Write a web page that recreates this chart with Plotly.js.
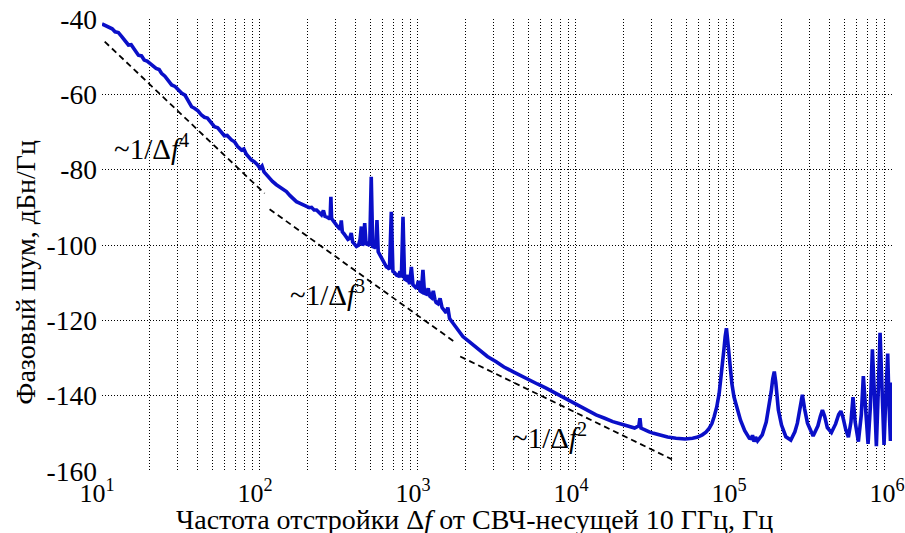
<!DOCTYPE html>
<html>
<head>
<meta charset="utf-8">
<script src="https://cdn.plot.ly/plotly-3.0.1.min.js"></script>
<style>html,body{margin:0;padding:0;background:#fff}#chart{width:905px;height:533px}</style>
</head>
<body>
<div id="chart"></div>
<script>
// Offset frequency, Hz
const freqHz = [
  10, 10.5, 11, 11.6, 12.1, 12.7, 13.3, 14, 14.7, 15.3, 16, 17, 17.8, 18.5, 19.3, 20, 21, 22, 23, 23.8,
  25, 26.3, 27.6, 29, 30.5, 32, 33.5, 35, 36.9, 38.5, 40.5, 42.6, 44.5, 46.5, 49.3, 51.5, 54, 57, 59.5, 62,
  66, 69, 72, 76.4, 79, 82, 85, 88, 92, 96, 100, 103, 106, 110, 115, 120, 127, 133, 140, 147,
  155, 162, 170, 178, 187, 197, 205, 212, 220, 228, 236, 245, 252, 258, 266, 273, 278, 281, 284, 292,
  300, 305, 315, 322, 327, 332, 340, 350, 360, 370, 378, 386, 395, 408, 420, 430, 438, 445, 452, 460,
  470, 482, 495, 506, 517, 532, 542, 550, 560, 573, 586, 600, 615, 631, 645, 660, 678, 694, 710, 730,
  750, 770, 785, 804, 822, 844, 865, 885, 908, 930, 953, 980, 1005, 1030, 1050, 1075, 1100, 1130, 1160, 1190,
  1220, 1250, 1280, 1303, 1340, 1380, 1420, 1460, 1509, 1545, 1585, 1650, 1750, 1850, 1924, 2100, 2300, 2455, 2750, 3127,
  3500, 3984, 4500, 5078, 5700, 6472, 7300, 8247, 9300, 10500, 11800, 13400, 15200, 17100, 19500, 21800, 23500, 25000, 25400, 25800,
  27500, 29100, 31000, 33700, 38000, 43000, 49000, 54700, 59000, 63000, 66500, 69600, 72500, 74900, 77800, 80600, 82500, 84500, 86500, 88000,
  89600, 91000, 92500, 94100, 97000, 100000, 105000, 110000, 117000, 125000, 129000, 131000, 134000, 137000, 141000, 151000, 160000, 167000, 172000, 176000,
  180000, 184000, 191000, 200000, 213000, 229000, 243000, 252000, 262000, 271000, 280000, 292000, 317000, 340000, 352000, 363000, 375000, 390000, 414000, 440000,
  460000, 475000, 490000, 510000, 530000, 550000, 567000, 585000, 613000, 640000, 659000, 680000, 706000, 730000, 752000, 775000, 797000, 820000, 841000, 866000,
  891000, 915000, 940000, 958000, 978000, 990000, 1000000
];
// Phase noise, dBc/Hz
const noiseDb = [
  -41.3, -41.8, -42.3, -42.6, -43.4, -43.6, -44.6, -45.9, -46.9, -46.8, -48.0, -49.6, -49.8, -50.9, -51.2, -51.8, -52.3, -53.1, -53.4, -54.4,
  -55.2, -56.4, -57.5, -57.9, -59.0, -59.7, -60.2, -61.5, -63.3, -63.7, -64.4, -65.5, -66.1, -66.3, -67.7, -68.6, -68.9, -69.9, -71.0, -70.9,
  -72.1, -72.6, -73.8, -74.8, -74.5, -75.9, -76.8, -77.4, -77.9, -78.6, -79.6, -79.0, -80.6, -81.4, -82.3, -83.1, -84.0, -84.6, -85.4, -85.8,
  -86.9, -87.8, -88.5, -88.9, -89.4, -89.8, -90.1, -90.0, -90.7, -90.7, -91.5, -92.0, -90.8, -92.4, -92.6, -92.9, -92.6, -87.2, -93.0, -93.8,
  -94.5, -94.7, -95.4, -95.8, -93.5, -96.5, -97.0, -97.8, -98.5, -98.2, -96.8, -99.2, -99.8, -100.4, -100.1, -98.5, -95.1, -100.2, -99.0, -94.2,
  -100.0, -99.6, -100.2, -81.9, -100.4, -100.6, -100.2, -93.4, -101.8, -102.6, -103.1, -103.9, -104.6, -105.8, -106.0, -106.4, -91.2, -107.0, -107.3, -108.0,
  -108.2, -107.0, -108.6, -92.5, -109.0, -109.3, -108.0, -110.4, -105.8, -110.6, -111.0, -111.6, -109.5, -112.2, -112.4, -106.6, -112.8, -113.0, -111.5, -113.6,
  -114.0, -112.2, -114.5, -115.3, -115.6, -114.2, -116.6, -117.2, -118.0, -116.6, -119.5, -120.5, -122.0, -123.3, -124.3, -125.6, -127.0, -127.9, -129.6, -131.0,
  -132.4, -133.6, -134.8, -135.8, -136.9, -138.0, -139.2, -140.3, -141.6, -142.9, -143.9, -145.1, -146.0, -146.9, -147.6, -148.2, -148.6, -148.0, -146.0, -148.6,
  -149.2, -149.6, -150.0, -150.5, -151.0, -151.3, -151.5, -151.3, -151.0, -150.4, -149.7, -148.7, -147.4, -145.6, -143.0, -139.4, -136.0, -131.4, -127.5, -124.3,
  -122.1, -124.8, -128.5, -132.3, -136.8, -140.3, -143.8, -146.5, -149.3, -151.3, -151.4, -150.5, -152.2, -151.0, -152.0, -150.4, -147.0, -142.9, -139.0, -135.5,
  -133.6, -136.5, -143.8, -147.8, -150.9, -151.8, -149.6, -147.3, -143.5, -139.8, -143.5, -147.3, -150.7, -148.0, -145.5, -143.8, -145.5, -148.5, -149.8, -147.5,
  -145.0, -144.1, -145.8, -149.0, -151.0, -147.0, -140.4, -147.0, -152.2, -145.0, -134.8, -143.0, -152.8, -143.0, -127.7, -140.0, -153.4, -138.0, -123.3, -138.5,
  -153.1, -140.0, -128.8, -142.0, -152.0, -145.0, -136.5
];
// Asymptote guide lines
const slope4F = [10.4, 107];    const slope4Db = [-46, -86.3];
const slope3F = [115, 1702];    const slope3Db = [-90.5, -125.7];
const slope2F = [1850, 40500];  const slope2Db = [-129.6, -156.9];

// Labels for the guide lines
const slopeLabels = ['~1/Δ<i>f</i><sup>4</sup>', '~1/Δ<i>f</i><sup>3</sup>', '~1/Δ<i>f</i><sup>2</sup>'];
const slopeLabelF = [20.7, 268, 6800];
const slopeLabelDb = [-74, -112.7, -150.7];

// Axis ticks and titles
const decadeExps = [1, 2, 3, 4, 5, 6];
const yTicks = [-160, -140, -120, -100, -80, -60, -40];
const yTickLabels = ['-160', '-140', '-120', '-100', '-80', '-60', '-40'];
const xTitle = 'Частота отстройки Δ<i>f</i> от СВЧ-несущей 10 ГГц, Гц';
const yTitle = 'Фазовый шум, дБн/Гц';

const xGridVals = [], xGridText = [];
decadeExps.forEach(function (e, i) {
  const base = Math.pow(10, e);
  xGridVals.push(base); xGridText.push('10<sup>' + e + '</sup>');
  if (i < decadeExps.length - 1) {
    for (let k = 2; k <= 9; k++) { xGridVals.push(k * base); xGridText.push(''); }
  }
});

const FONT = "Liberation Serif, Tinos, Times New Roman, serif";
const dashStyle = {color: '#000', width: 1.8, dash: '6px,4px'};

const traces = [
  {x: slope4F, y: slope4Db, mode: 'lines', line: dashStyle, hoverinfo: 'skip'},
  {x: slope3F, y: slope3Db, mode: 'lines', line: dashStyle, hoverinfo: 'skip'},
  {x: slope2F, y: slope2Db, mode: 'lines', line: dashStyle, hoverinfo: 'skip'},
  {x: freqHz, y: noiseDb, mode: 'lines', line: {color: '#0a0fc8', width: 3.6}}
];

const annotations = slopeLabels.map(function (t, i) {
  return {x: Math.log10(slopeLabelF[i]), y: slopeLabelDb[i], xref: 'x', yref: 'y', text: t, showarrow: false,
          font: {family: FONT, size: 29, color: '#000'}, xanchor: 'center', yanchor: 'middle'};
});
annotations.push({xref: 'paper', yref: 'paper', x: 0.4709, y: -0.1075, xanchor: 'center', yanchor: 'middle',
  text: xTitle, showarrow: false, font: {family: FONT, size: 28, color: '#000'}});
annotations.push({xref: 'paper', yref: 'paper', x: -0.0973, y: 0.439, xanchor: 'center', yanchor: 'middle',
  textangle: -90, text: yTitle, showarrow: false, font: {family: FONT, size: 28, color: '#000'}});

const layout = {
  width: 905, height: 533,
  margin: {l: 102, r: 13, t: 19, b: 62},
  paper_bgcolor: '#fff', plot_bgcolor: '#fff',
  showlegend: false,
  font: {family: FONT, size: 27, color: '#000'},
  xaxis: {
    type: 'log', range: [1, 6.0003],
    tickmode: 'array', tickvals: xGridVals, ticktext: xGridText,
    ticks: '', showline: false, zeroline: false,
    showgrid: true, gridcolor: '#000', gridwidth: 1, griddash: '1px,2px',
    tickfont: {family: FONT, size: 26, color: '#000'},
    ticklabeloverflow: 'allow', ticklabelshift: -5, ticklabelstandoff: 4,
    automargin: false
  },
  yaxis: {
    range: [-160, -40],
    tickmode: 'array', tickvals: yTicks, ticktext: yTickLabels,
    ticks: '', showline: false, zeroline: false,
    showgrid: true, gridcolor: '#000', gridwidth: 1, griddash: '1px,2px',
    tickfont: {family: FONT, size: 27.5, color: '#000'},
    ticklabelstandoff: 4,
    automargin: false
  },
  annotations: annotations
};

Plotly.newPlot('chart', traces, layout, {staticPlot: true, displayModeBar: false});
</script>
</body>
</html>
